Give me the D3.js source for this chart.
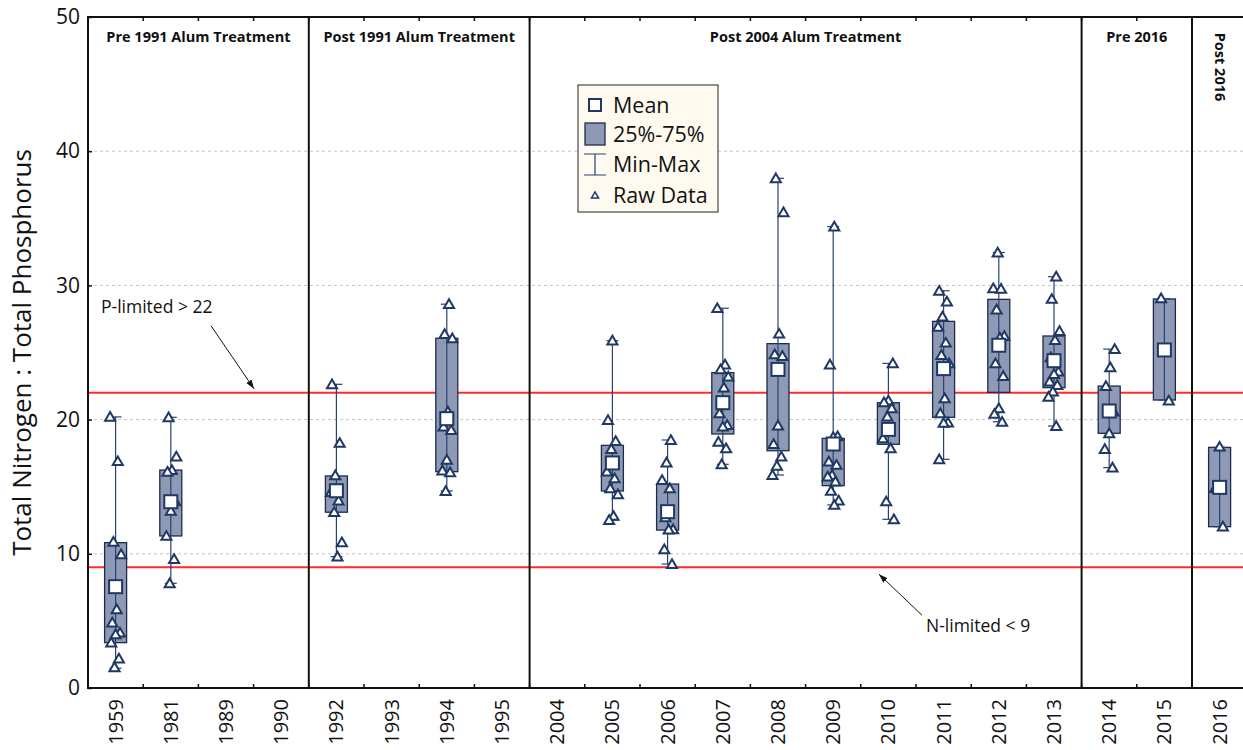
<!DOCTYPE html>
<html>
<head>
<meta charset="utf-8">
<script src="https://cdn.jsdelivr.net/npm/d3@7"></script>
<style>
  body { margin: 0; background: #fff; }
  svg { display: block; }
</style>
</head>
<body>
<div id="chart"></div>
<script>
// categories (x axis)
const years = ['1959', '1981', '1989', '1990', '1992', '1993', '1994', '1995', '2004', '2005', '2006',
  '2007', '2008', '2009', '2010', '2011', '2012', '2013', '2014', '2015', '2016'];

// box stats per year (null = no samples)
const means = [7.55, 13.88, null, null, 14.7, null, 20.07, null, null, 16.77, 13.14,
  21.26, 23.74, 18.18, 19.27, 23.8, 25.54, 24.39, 20.64, 25.19, 14.95];
const q1s = [3.38, 11.33, null, null, 13.1, null, 16.12, null, null, 14.68, 11.77,
  18.93, 17.68, 15.08, 18.16, 20.17, 22.03, 22.38, 18.98, 21.46, 12.02];
const q3s = [10.83, 16.24, null, null, 15.8, null, 26.06, null, null, 18.08, 15.2,
  23.5, 25.66, 18.6, 21.26, 27.32, 28.96, 26.23, 22.5, 28.99, 17.93];
const mins = [1.47, 7.8, null, null, 9.79, null, 14.68, null, null, 12.52, 9.24,
  16.67, 15.87, 13.64, 12.57, 17.04, 19.84, 19.52, 16.42, 21.46, 12.02];
const maxs = [20.2, 20.17, null, null, 22.63, null, 28.6, null, null, 25.88, 18.48,
  28.3, 37.98, 34.38, 24.19, 29.6, 32.45, 30.65, 25.25, 28.99, 17.93];

// raw samples per year
const raw = [
  [20.2, 16.9, 10.9, 9.96, 5.86, 4.87, 4.12, 4.0, 3.38, 2.2, 1.54],
  [20.17, 17.24, 16.24, 16.1, 13.9, 13.2, 11.33, 9.6, 7.8],
  [], [],
  [22.63, 18.26, 15.85, 14.6, 13.96, 13.1, 10.86, 9.79],
  [],
  [28.6, 26.38, 26.06, 20.6, 19.47, 19.22, 17.0, 16.2, 16.07, 14.68],
  [], [],
  [25.88, 19.97, 18.4, 17.8, 16.12, 15.62, 14.88, 14.43, 12.82, 12.52],
  [18.48, 16.79, 15.5, 14.88, 12.72, 11.83, 11.8, 10.34, 9.24],
  [28.3, 24.1, 23.75, 23.2, 22.38, 20.47, 19.6, 19.47, 18.35, 17.86, 16.67],
  [37.98, 35.45, 26.4, 24.86, 24.74, 19.55, 18.18, 17.24, 16.56, 15.87],
  [34.38, 24.1, 18.75, 18.7, 16.87, 16.62, 15.87, 15.75, 15.38, 14.7, 13.96, 13.64],
  [24.19, 21.41, 21.29, 20.84, 20.22, 18.6, 17.86, 13.9, 12.57],
  [29.6, 28.8, 27.67, 26.92, 25.73, 24.81, 24.19, 21.59, 20.47, 19.77, 19.75, 17.04],
  [32.45, 29.78, 29.75, 28.2, 26.23, 26.1, 24.2, 23.25, 20.84, 20.42, 19.84],
  [30.65, 28.99, 26.6, 25.93, 24.64, 23.57, 23.4, 22.83, 22.58, 22.08, 21.7, 19.52],
  [25.25, 23.9, 22.5, 20.6, 18.98, 17.8, 16.42],
  [29.04, 21.41],
  [17.98, 14.9, 12.02]
];

// treatment periods: first and last year of each
const periods = ['Pre 1991 Alum Treatment', 'Post 1991 Alum Treatment', 'Post 2004 Alum Treatment', 'Pre 2016', 'Post 2016'];
const periodStart = ['1959', '1992', '2004', '2014', '2016'];
const periodEnd = ['1990', '1995', '2013', '2015', '2016'];

// trophic limit lines
const limitValues = [22, 9];
const yTicks = [0, 10, 20, 30, 40, 50];

const W = 1243, H = 750;
const margin = { top: 17, left: 88 };
const bandW = 55.2;
const plotBottom = 688;

const svg = d3.select('#chart').append('svg')
  .attr('width', W).attr('height', H)
  .style('font-family', '"Open Sans", "Noto Sans", sans-serif');

const x = d3.scaleBand().domain(years)
  .range([margin.left, margin.left + bandW * years.length]).padding(0);
const y = d3.scaleLinear().domain([0, 50]).range([plotBottom, margin.top]);
const cx = yr => x(yr) + x.bandwidth() / 2;

const navy = '#1f3864';

// gridlines
svg.append('g').selectAll('line').data(yTicks.filter(d => d > 0 && d < 50)).join('line')
  .attr('x1', margin.left).attr('x2', W)
  .attr('y1', d => y(d)).attr('y2', d => y(d))
  .attr('stroke', '#c4c4c4').attr('stroke-dasharray', '3,3');

// limit lines
svg.append('g').selectAll('line').data(limitValues).join('line')
  .attr('x1', margin.left).attr('x2', W)
  .attr('y1', d => y(d)).attr('y2', d => y(d))
  .attr('stroke', '#ff2b2b').attr('stroke-width', 2);

// period separators
svg.append('g').selectAll('line').data(periodStart.slice(1)).join('line')
  .attr('x1', d => x(d)).attr('x2', d => x(d))
  .attr('y1', y(50)).attr('y2', y(0))
  .attr('stroke', '#111').attr('stroke-width', 2);

// period titles
periods.forEach((p, i) => {
  const x0 = x(periodStart[i]), x1 = x(periodEnd[i]) + x.bandwidth();
  const t = svg.append('text')
    .attr('font-family', '"Open Sans", sans-serif')
    .attr('font-weight', 'bold').attr('font-size', 14.5).attr('fill', '#111')
    .text(p);
  if (p === 'Post 2016') {
    t.attr('transform', `translate(${(x0 + x1) / 2 - 5},${y(50) + 50}) rotate(90)`)
      .attr('text-anchor', 'middle');
  } else {
    t.attr('x', (x0 + x1) / 2).attr('y', y(50) + 25).attr('text-anchor', 'middle');
  }
});

// boxes
const idx = d3.range(years.length).filter(i => means[i] != null);
const boxW = 22;
const g = svg.append('g');

g.selectAll('rect.box').data(idx).join('rect').attr('class', 'box')
  .attr('x', i => cx(years[i]) - boxW / 2)
  .attr('width', boxW)
  .attr('y', i => y(q3s[i]))
  .attr('height', i => y(q1s[i]) - y(q3s[i]))
  .attr('fill', '#8d99b5').attr('stroke', '#1e2b4a').attr('stroke-width', 1.3);

g.selectAll('line.whisker').data(idx).join('line').attr('class', 'whisker')
  .attr('x1', i => cx(years[i])).attr('x2', i => cx(years[i]))
  .attr('y1', i => y(mins[i])).attr('y2', i => y(maxs[i]))
  .attr('stroke', '#2a4272').attr('stroke-width', 1.2);

['min', 'max'].forEach(k => {
  g.selectAll('line.cap-' + k).data(idx).join('line').attr('class', 'cap-' + k)
    .attr('x1', i => cx(years[i]) - 6).attr('x2', i => cx(years[i]) + 6)
    .attr('y1', i => y(k === 'min' ? mins[i] : maxs[i]))
    .attr('y2', i => y(k === 'min' ? mins[i] : maxs[i]))
    .attr('stroke', '#2a4272').attr('stroke-width', 1.2);
});

// raw data triangles, small deterministic horizontal spread
const tri = d3.symbol().type(d3.symbolTriangle).size(44);
const pts = [];
idx.forEach(i => raw[i].forEach((v, j) => pts.push({ yr: years[i], v, off: (((j * 7 + i * 3) % 11) - 5) * 1.1 })));
g.selectAll('path.raw').data(pts).join('path').attr('class', 'raw')
  .attr('d', tri)
  .attr('transform', d => `translate(${cx(d.yr) + d.off},${y(d.v) + 1})`)
  .attr('fill', '#fff').attr('stroke', navy).attr('stroke-width', 2);

// means
g.selectAll('rect.mean').data(idx).join('rect').attr('class', 'mean')
  .attr('x', i => cx(years[i]) - 6.5).attr('y', i => y(means[i]) - 6.5)
  .attr('width', 13).attr('height', 13)
  .attr('fill', '#fff').attr('stroke', navy).attr('stroke-width', 2);

// frame
svg.append('path')
  .attr('d', `M${W + 5},${y(50)}H${margin.left}V${y(0)}H${W + 5}`)
  .attr('fill', 'none').attr('stroke', '#111').attr('stroke-width', 2);

// category boundary ticks (inward) top and bottom
const bounds = years.slice(1);
svg.append('g').selectAll('line').data(bounds).join('line')
  .attr('x1', d => x(d)).attr('x2', d => x(d))
  .attr('y1', y(0)).attr('y2', y(0) - 4).attr('stroke', '#111').attr('stroke-width', 1.5);
svg.append('g').selectAll('line').data(bounds).join('line')
  .attr('x1', d => x(d)).attr('x2', d => x(d))
  .attr('y1', y(50)).attr('y2', y(50) + 4).attr('stroke', '#111').attr('stroke-width', 1.5);

// y axis
const yAxis = svg.append('g')
  .attr('transform', `translate(${margin.left},0)`)
  .call(d3.axisRight(y).tickValues(yTicks).tickSize(4).tickFormat(d3.format('d')));
yAxis.select('.domain').remove();
yAxis.selectAll('line').attr('stroke', '#111').attr('stroke-width', 1.5);
yAxis.selectAll('text')
  .attr('x', -8).attr('text-anchor', 'end')
  .attr('font-size', 21).attr('font-family', '"Open Sans", sans-serif').attr('fill', '#111');

// x axis labels
const xAxis = svg.append('g')
  .attr('transform', `translate(0,${y(0)})`)
  .call(d3.axisBottom(x).tickSize(0));
xAxis.select('.domain').remove();
xAxis.selectAll('text')
  .attr('font-size', 20).attr('font-family', '"Open Sans", sans-serif').attr('fill', '#111')
  .attr('transform', 'rotate(-90)')
  .attr('text-anchor', 'end')
  .attr('x', -11).attr('y', 0).attr('dy', '0.35em');

// y title
svg.append('text')
  .attr('transform', `translate(31,${(y(0) + y(50)) / 2}) rotate(-90)`)
  .attr('text-anchor', 'middle')
  .attr('font-size', 26).attr('fill', '#111')
  .text('Total Nitrogen : Total Phosphorus');

// annotations
svg.append('defs').append('marker')
  .attr('id', 'arr').attr('viewBox', '0 0 10 10').attr('refX', 10).attr('refY', 5)
  .attr('markerWidth', 9).attr('markerHeight', 9).attr('orient', 'auto')
  .append('path').attr('d', 'M0,1.5L10,5L0,8.5Z').attr('fill', '#111');

const ann = svg.append('g').attr('font-family', '"Open Sans", sans-serif').attr('font-size', 17.5).attr('fill', '#111');
ann.append('text').attr('x', 101).attr('y', y(22) - 80).text('P-limited > 22');
ann.append('line').attr('x1', 211).attr('y1', y(22) - 67).attr('x2', 254).attr('y2', y(22) - 4)
  .attr('stroke', '#111').attr('stroke-width', 1).attr('marker-end', 'url(#arr)');
ann.append('text').attr('x', 926).attr('y', y(9) + 65).text('N-limited < 9');
ann.append('line').attr('x1', 922).attr('y1', y(9) + 48).attr('x2', 879).attr('y2', y(9) + 7)
  .attr('stroke', '#111').attr('stroke-width', 1).attr('marker-end', 'url(#arr)');

// legend
const leg = svg.append('g').attr('transform', 'translate(578,85)');
leg.append('rect').attr('width', 140).attr('height', 127)
  .attr('fill', '#fffaf0').attr('stroke', '#222').attr('stroke-width', 1);
const legItems = ['Mean', '25%-75%', 'Min-Max', 'Raw Data'];
const rowY = [20, 49, 79, 110];
legItems.forEach((t, i) => {
  leg.append('text').attr('x', 35).attr('y', rowY[i]).attr('dy', '0.35em')
    .attr('font-size', 21.5).attr('fill', '#111').text(t);
});
leg.append('rect').attr('x', 11).attr('y', rowY[0] - 6).attr('width', 12).attr('height', 12)
  .attr('fill', '#fff').attr('stroke', navy).attr('stroke-width', 2);
leg.append('rect').attr('x', 7).attr('y', rowY[1] - 11).attr('width', 20).attr('height', 22)
  .attr('fill', '#8d99b5').attr('stroke', '#1e2b4a').attr('stroke-width', 1.3);
leg.append('path').attr('d', `M6,${rowY[2] - 10}H28M17,${rowY[2] - 10}V${rowY[2] + 11}M6,${rowY[2] + 11}H28`)
  .attr('fill', 'none').attr('stroke', '#2a4272').attr('stroke-width', 1.2);
leg.append('path').attr('d', d3.symbol().type(d3.symbolTriangle).size(22))
  .attr('transform', `translate(17,${rowY[3] + 1})`)
  .attr('fill', '#fff').attr('stroke', navy).attr('stroke-width', 1.5);
</script>
</body>
</html>
